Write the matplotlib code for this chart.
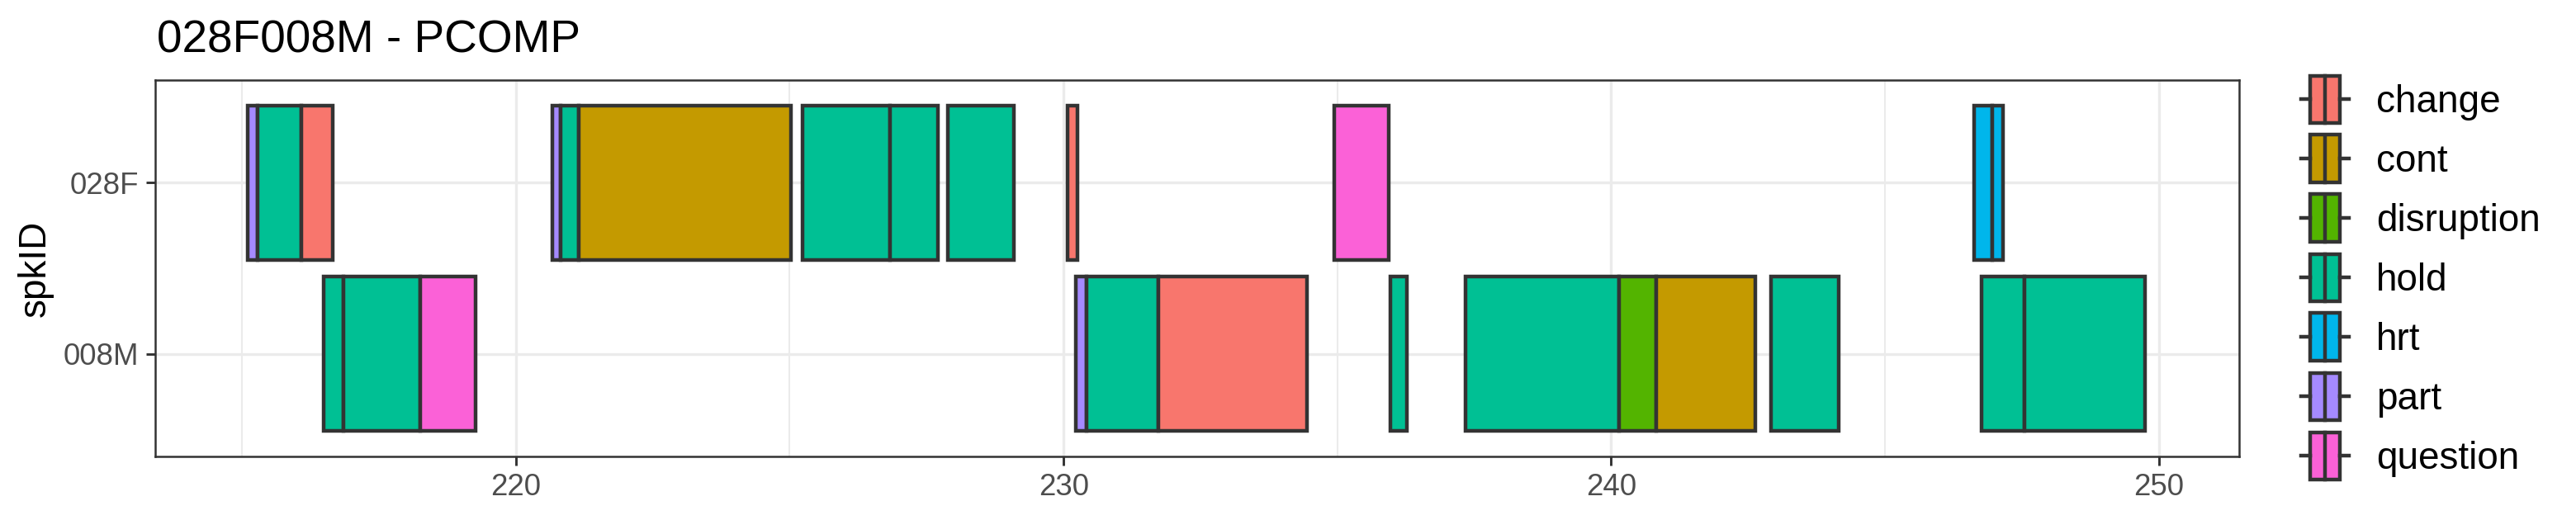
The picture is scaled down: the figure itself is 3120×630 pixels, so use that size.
import matplotlib
matplotlib.use("Agg")
import matplotlib.pyplot as plt
from matplotlib.patches import Rectangle
from matplotlib.lines import Line2D

plt.rcParams['font.family'] = ['Liberation Sans', 'DejaVu Sans']

# ---------------- data ----------------
title = "028F008M - PCOMP"
y_title = "spkID"
speakers = ["028F", "008M"]          # top to bottom
categories = ["change", "cont", "disruption", "hold", "hrt", "part", "question"]
cat_colors = ["#F8766D", "#C49A00", "#53B400", "#00C094", "#00B6EB", "#A58AFF", "#FB61D7"]

seg_speaker = ["028F", "028F", "028F", "028F", "028F", "028F", "028F", "028F", "028F",
               "028F", "028F", "028F", "028F",
               "008M", "008M", "008M", "008M", "008M", "008M", "008M", "008M", "008M",
               "008M", "008M", "008M", "008M"]
seg_category = ["part", "hold", "change", "part", "hold", "cont", "hold", "hold", "hold",
                "change", "question", "hrt", "hrt",
                "hold", "hold", "question", "part", "hold", "change", "hold", "hold", "disruption",
                "cont", "hold", "hold", "hold"]
seg_start = [215.11, 215.29, 216.08, 220.66, 220.82, 221.15, 225.23, 226.83, 227.89,
             230.08, 234.94, 246.63, 246.96,
             216.49, 216.86, 218.25, 230.22, 230.42, 231.73, 235.97, 237.34, 240.14,
             240.82, 242.92, 246.76, 247.54]
seg_end = [215.29, 216.08, 216.65, 220.82, 221.15, 225.03, 226.83, 227.71, 229.09,
           230.25, 235.94, 246.96, 247.16,
           216.86, 218.25, 219.26, 230.42, 231.73, 234.44, 236.27, 240.14, 240.82,
           242.63, 244.15, 247.54, 249.75]

x_major = [220, 230, 240, 250]
x_minor = [215, 225, 235, 245]

# ---------------- figure ----------------
W, H, DPI = 3120, 630, 300
fig = plt.figure(figsize=(W / DPI, H / DPI), dpi=DPI)

def fx(px):
    return px / W

def fy(py):
    return 1 - py / H

pl, pr, pt, pb = 188.3, 2711.7, 97.3, 552.7
ax = fig.add_axes([fx(pl), fy(pb), fx(pr) - fx(pl), fy(pt) - fy(pb)])

ypos = {s: len(speakers) - i for i, s in enumerate(speakers)}
cmap = dict(zip(categories, cat_colors))

edge = "#333333"
lw_bar = 1.07
for sp, cat, s, e in zip(seg_speaker, seg_category, seg_start, seg_end):
    ax.barh(ypos[sp], e - s, left=s, height=0.9, color=cmap[cat],
            edgecolor=edge, linewidth=lw_bar, zorder=3)

ax.set_xlim(213.42, 251.46)
ax.set_ylim(0.4, len(speakers) + 0.6)
ax.set_yticks([ypos[s] for s in speakers])
ax.set_yticklabels(speakers)
ax.set_xticks(x_major)
ax.set_xticks(x_minor, minor=True)

ax.grid(which="major", color="#EBEBEB", linewidth=0.8, zorder=0)
ax.grid(which="minor", axis="x", color="#EBEBEB", linewidth=0.5, zorder=0)
ax.set_axisbelow(True)

for sp in ax.spines.values():
    sp.set_color("#333333")
    sp.set_linewidth(0.6)
    sp.set_zorder(5)

ax.tick_params(axis="both", which="major", length=2.75, width=0.7, color="#333333",
               labelsize=8.8, labelcolor="#4D4D4D", pad=2.2)
ax.tick_params(axis="both", which="minor", length=0)

# title and axis title
fig.text(fx(190), fy(63), title, fontsize=13.2, color="black", ha="left", va="baseline")
fig.text(fx(42.5), fy(325), y_title, fontsize=11, color="black", rotation=90,
         ha="center", va="center")

# ---------------- legend (boxplot-style keys) ----------------
key_left = 2780.0
key_size = 72.0
c0 = 120.3
for i, (cat, col) in enumerate(zip(categories, cat_colors)):
    cy = c0 + key_size * i
    bx0 = key_left + 0.25 * key_size
    bx1 = key_left + 0.75 * key_size
    by0 = cy - 0.4 * key_size
    by1 = cy + 0.4 * key_size
    # whiskers
    for xa, xb in [(key_left + 0.1 * key_size, bx0), (bx1, key_left + 0.9 * key_size)]:
        fig.add_artist(Line2D([fx(xa), fx(xb)], [fy(cy), fy(cy)], color=edge,
                              linewidth=lw_bar, transform=fig.transFigure))
    fig.add_artist(Rectangle((fx(bx0), fy(by1)), fx(bx1) - fx(bx0), fy(by0) - fy(by1),
                             facecolor=col, edgecolor=edge, linewidth=lw_bar,
                             transform=fig.transFigure))
    mx = key_left + 0.5 * key_size
    fig.add_artist(Line2D([fx(mx), fx(mx)], [fy(by0), fy(by1)], color=edge,
                          linewidth=lw_bar, transform=fig.transFigure))
    fig.text(fx(2878), fy(cy + 16), cat, fontsize=11, color="black",
             ha="left", va="baseline")

fig.savefig("out.png", dpi=DPI, facecolor="white")
